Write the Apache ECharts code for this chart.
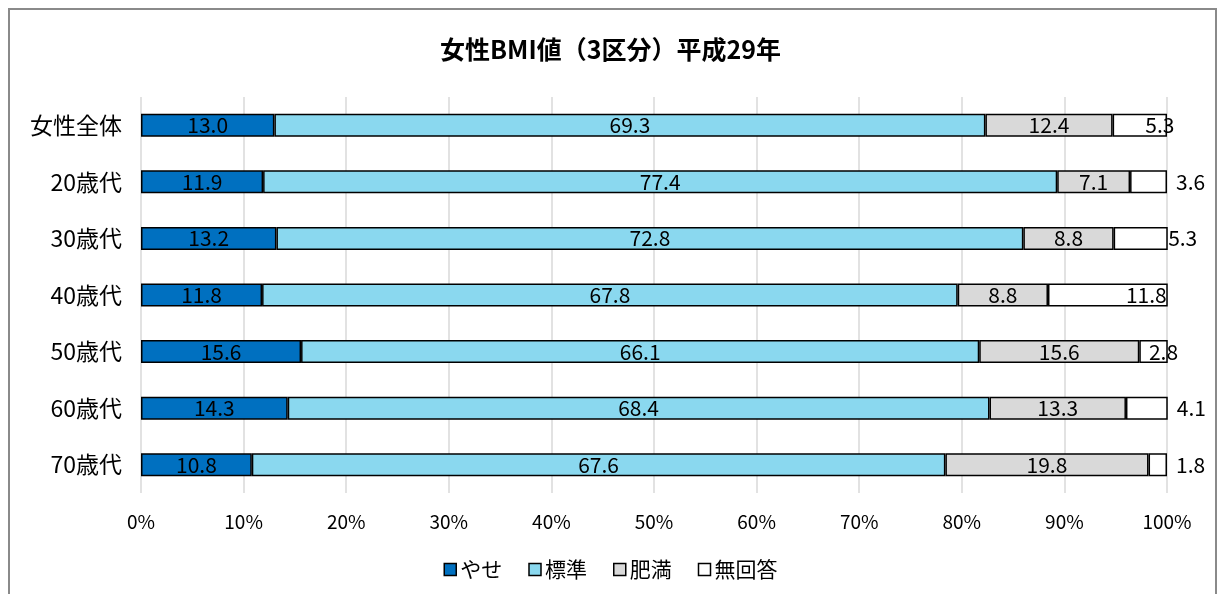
<!DOCTYPE html>
<html><head><meta charset="utf-8">
<script src="https://cdn.jsdelivr.net/npm/echarts@6/dist/echarts.min.js"></script>
<style>
html,body{margin:0;padding:0;background:#fff;}
#frame{position:absolute;left:8px;top:8px;width:1209px;height:600px;border:2px solid #8a8a8a;border-bottom:none;box-sizing:border-box;}
#chart{position:absolute;left:0;top:0;width:1221px;height:594px;}
</style></head>
<body>
<div id="frame"></div>
<div id="chart"></div>
<script>
const titleText = '女性BMI値（3区分）平成29年';
const categories = ['女性全体','20歳代','30歳代','40歳代','50歳代','60歳代','70歳代'];
const seriesNames = ['やせ','標準','肥満','無回答'];
const yase   = [13.0, 11.9, 13.2, 11.8, 15.6, 14.3, 10.8];
const hyojun = [69.3, 77.4, 72.8, 67.8, 66.1, 68.4, 67.6];
const himan  = [12.4, 7.1, 8.8, 8.8, 15.6, 13.3, 19.8];
const mukaito= [5.3, 3.6, 5.3, 11.8, 2.8, 4.1, 1.8];
const xTicks = [0,10,20,30,40,50,60,70,80,90,100];

const FONT = '"Noto Sans CJK JP", sans-serif';
const NARROW = '"Liberation Sans Narrow", "Noto Sans CJK JP", sans-serif';
const colors = ['#0070C0','#8AD8EF','#D9D9D9','#FFFFFF'];
const labelFont = {fontFamily: FONT, fontSize: 21, color: '#000'};

// label placement for the small "無回答" segments (styling, not data)
const noAnsLabelCfg = [
  {position:'inside', offset:[20,0]},
  {position:'right', distance:9},
  {position:'inside', offset:[42,0]},
  {position:'insideRight', distance:1},
  {position:'inside', offset:[10,0]},
  {position:'right', distance:9},
  {position:'right', distance:9}
];

const allData = [yase, hyojun, himan, mukaito];
const series = allData.map((arr, si) => ({
  name: seriesNames[si],
  type: 'bar',
  stack: 'total',
  barWidth: 23,
  itemStyle: {color: colors[si], borderColor: '#000', borderWidth: 1.5},
  label: Object.assign({show: true, position: 'inside', formatter: p => p.value.toFixed(1)}, labelFont),
  data: arr.map((v, i) => si === 3 ? {value: v, label: noAnsLabelCfg[i]} : v)
}));

const chart = echarts.init(document.getElementById('chart'), null, {renderer: 'canvas'});
chart.setOption({
  animation: false,
  title: {text: titleText, left: 'center', top: 32, textStyle: {fontFamily: FONT, fontSize: 25, fontWeight: 'bold', color: '#000'}},
  legend: {
    bottom: 9, left: 'center', itemWidth: 12, itemHeight: 12, itemGap: 26,
    icon: 'rect',
    itemStyle: {borderColor: '#000', borderWidth: 1.5},
    textStyle: {fontFamily: FONT, fontSize: 21, color: '#000', padding: [0,0,0,-1]},
    data: seriesNames
  },
  grid: {left: 141, right: 54, top: 97, height: 396, containLabel: false},
  xAxis: {
    type: 'value', min: 0, max: 100, interval: 10,
    axisLine: {show: false}, axisTick: {show: false},
    splitLine: {show: true, lineStyle: {color: '#D9D9D9', width: 1.5}},
    axisLabel: {formatter: v => xTicks.includes(v) ? v + '%' : '', fontFamily: NARROW, fontSize: 19, color: '#000', margin: 19}
  },
  yAxis: {
    type: 'category', data: categories, inverse: true,
    axisLine: {show: false}, axisTick: {show: false},
    axisLabel: {fontFamily: FONT, fontSize: 23, color: '#000', margin: 19}
  },
  series: series
});
</script>
</body></html>
